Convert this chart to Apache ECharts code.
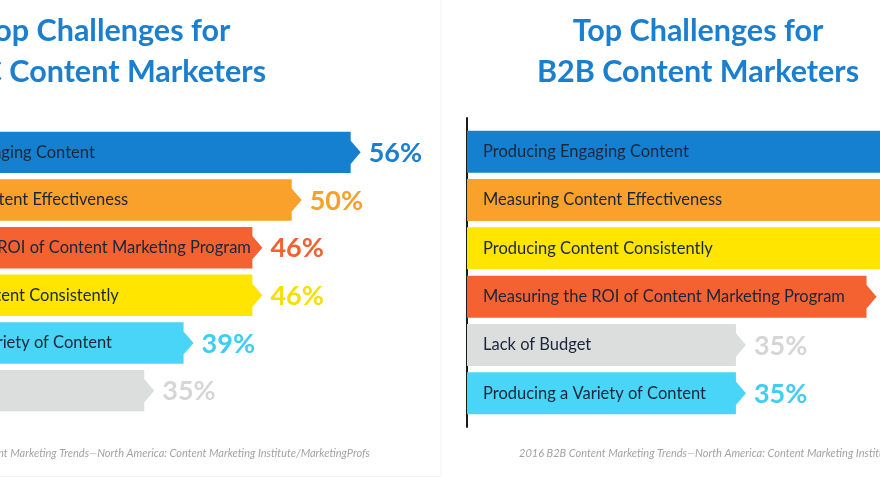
<!DOCTYPE html>
<html>
<head>
<meta charset="utf-8">
<script src="https://cdn.jsdelivr.net/npm/echarts@6/dist/echarts.min.js"></script>
<style>
  html, body { margin: 0; padding: 0; background: #fff; }
  #chart { width: 880px; height: 480px; }
</style>
</head>
<body>
<div id="chart"></div>
<script>
// B2C (left panel)
const b2cCategories = [
  'Producing Engaging Content',
  'Measuring Content Effectiveness',
  'Measuring the ROI of Content Marketing Program',
  'Producing Content Consistently',
  'Producing a Variety of Content',
  'Lack of Budget'
]
const b2cValues = [56, 50, 46, 46, 39, 35]

// B2B (right panel)
const b2bCategories = [
  'Producing Engaging Content',
  'Measuring Content Effectiveness',
  'Producing Content Consistently',
  'Measuring the ROI of Content Marketing Program',
  'Lack of Budget',
  'Producing a Variety of Content'
]
const b2bValues = [60, 57, 57, 52, 35, 35]

const titles = ['Top Challenges for\nB2C Content Marketers', 'Top Challenges for\nB2B Content Marketers']
const sources = [
  '2016 B2C Content Marketing Trends\u2014North America: Content Marketing Institute/MarketingProfs',
  '2016 B2B Content Marketing Trends\u2014North America: Content Marketing Institute/MarketingProfs'
]

// colour per challenge
const barColors = {
  'Producing Engaging Content': '#1680d0',
  'Measuring Content Effectiveness': '#f9a12a',
  'Measuring the ROI of Content Marketing Program': '#f46232',
  'Producing Content Consistently': '#ffe500',
  'Producing a Variety of Content': '#48d5f8',
  'Lack of Budget': '#dcdddd'
}
const pctColors = {
  'Producing Engaging Content': '#1a7fcf',
  'Measuring Content Effectiveness': '#f7a02a',
  'Measuring the ROI of Content Marketing Program': '#f2612f',
  'Producing Content Consistently': '#f7df00',
  'Producing a Variety of Content': '#3fcdf3',
  'Lack of Budget': '#d6d6d6'
}

const FONT = 'Lato, "Open Sans", sans-serif'
const TITLE_COLOR = '#1a7fcf'

const chart = echarts.init(document.getElementById('chart'))

// arrow-ended bar + name inside + percent after the tip
const makeRender = (categories, labelOffset) => (params, api) => {
  const val = api.value(0)
  const idx = api.value(1)
  const x0 = params.coordSys.x
  const [x1, y] = api.coord([val, idx])
  const h = api.size([0, 1])[1] * 0.87
  const th = h * 0.28
  const tip = 10
  const name = categories[idx]
  return {
    type: 'group',
    children: [
      {
        type: 'polygon',
        shape: {
          points: [
            [x0, y - h / 2], [x1, y - h / 2], [x1, y - th], [x1 + tip, y],
            [x1, y + th], [x1, y + h / 2], [x0, y + h / 2]
          ]
        },
        style: { fill: barColors[name] }
      },
      {
        type: 'text',
        style: {
          text: name, x: x0 + labelOffset, y: y,
          align: 'left', verticalAlign: 'middle',
          fill: '#1b2638', font: '16.5px ' + FONT
        }
      },
      {
        type: 'text',
        style: {
          text: val + '%', x: x1 + tip + 8, y: y + 1,
          align: 'left', verticalAlign: 'middle',
          fill: pctColors[name], font: 'bold 27px ' + FONT
        }
      }
    ]
  }
}

const titleStyle = { color: TITLE_COLOR, fontFamily: FONT, fontSize: 30.5, fontWeight: 'bold', lineHeight: 41 }

const option = {
  backgroundColor: '#ffffff',
  animation: false,
  title: [
    { text: titles[0], left: 105, top: 11, textAlign: 'center', padding: 0, textStyle: titleStyle },
    { text: titles[1], left: 698, top: 11, textAlign: 'center', padding: 0, textStyle: titleStyle }
  ],
  grid: [
    { left: -131, right: 490, top: 119, bottom: 56, outerBoundsMode: 'none', containLabel: false },
    { left: 467, right: -48, top: 118, bottom: 53, outerBoundsMode: 'none', containLabel: false }
  ],
  xAxis: [
    { gridIndex: 0, type: 'value', min: 7, max: 60, show: false },
    { gridIndex: 1, type: 'value', min: 0, max: 60, show: false }
  ],
  yAxis: [
    {
      gridIndex: 0, type: 'value', inverse: true, min: -0.7, max: 5.7,
      axisLine: { show: false }, axisTick: { show: false }, axisLabel: { show: false }, splitLine: { show: false }
    },
    {
      gridIndex: 1, type: 'value', inverse: true, min: -0.7, max: 5.7,
      axisLine: { show: true, onZero: false, lineStyle: { color: '#1a1a1a', width: 2 } },
      axisTick: { show: false }, axisLabel: { show: false }, splitLine: { show: false }
    }
  ],
  series: [
    {
      type: 'custom',
      xAxisIndex: 0, yAxisIndex: 0,
      renderItem: makeRender(b2cCategories, 20),
      data: b2cValues.map((v, i) => [v, i])
    },
    {
      type: 'custom',
      xAxisIndex: 1, yAxisIndex: 1,
      renderItem: makeRender(b2bCategories, 16),
      data: b2bValues.map((v, i) => [v, i])
    }
  ],
  graphic: [
    { type: 'line', shape: { x1: 441, y1: 0, x2: 441, y2: 476 }, style: { stroke: '#f3f3f3', lineWidth: 1 }, silent: true },
    { type: 'line', shape: { x1: 0, y1: 476.5, x2: 441, y2: 476.5 }, style: { stroke: '#f3f3f3', lineWidth: 1 }, silent: true },
    {
      type: 'text', x: 370, y: 453,
      style: { text: sources[0], align: 'right', verticalAlign: 'middle', fill: '#a3a3a3', font: 'italic 11px ' + FONT }
    },
    {
      type: 'text', x: 519, y: 453,
      style: { text: sources[1], align: 'left', verticalAlign: 'middle', fill: '#a3a3a3', font: 'italic 11px ' + FONT }
    }
  ]
}

chart.setOption(option)
window.addEventListener('resize', () => chart.resize())
</script>
</body>
</html>
